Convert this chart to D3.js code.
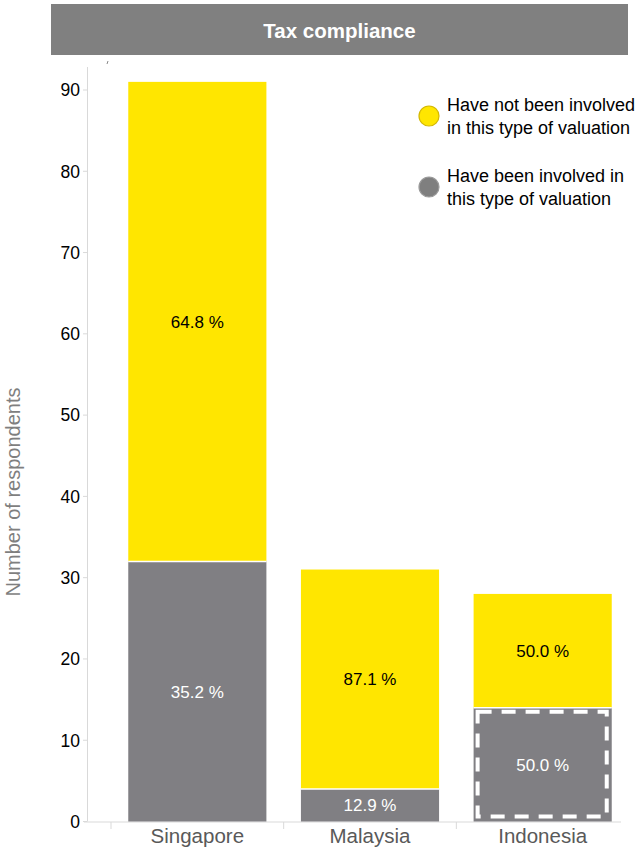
<!DOCTYPE html>
<html><head><meta charset="utf-8">
<script src="https://cdn.jsdelivr.net/npm/d3@7"></script>
<style>body{margin:0;background:#fff;}svg{display:block;font-family:"Liberation Sans",Arial,sans-serif;}</style>
</head><body><svg id="c" width="643" height="861"></svg>
<script>
const categories = ["Singapore","Malaysia","Indonesia"];
const involved = [32, 4, 14];
const notInvolved = [59, 27, 14];
const involvedPct = ["35.2 %","12.9 %","50.0 %"];
const notInvolvedPct = ["64.8 %","87.1 %","50.0 %"];
const yTicks = [0,10,20,30,40,50,60,70,80,90];
const legendLabels = [["Have not been involved","in this type of valuation"],["Have been involved in","this type of valuation"]];

const YEL = "#FFE600", GRY = "#807F83";
const svg = d3.select("#c");
const y = d3.scaleLinear().domain([0,90]).range([821.5,90]);
const x = d3.scaleBand().domain(categories).range([111,629]).paddingInner(0.2).paddingOuter(0.1);

// title bar
svg.append("rect").attr("x",51).attr("y",4).attr("width",577).attr("height",51).attr("fill","#808080");
svg.append("text").attr("x",339.5).attr("y",38).attr("text-anchor","middle").attr("fill","#fff")
  .attr("font-weight","bold").attr("font-size",20.5).text("Tax compliance");

// y axis
svg.append("line").attr("x1",87.5).attr("x2",87.5).attr("y1",67).attr("y2",821.5).attr("stroke","#d9d9d9");
svg.append("line").attr("x1",107).attr("x2",108).attr("y1",64).attr("y2",61).attr("stroke","#888");
const yt = svg.append("g");
yTicks.forEach(t=>{
  yt.append("line").attr("x1",83).attr("x2",87).attr("y1",y(t)).attr("y2",y(t)).attr("stroke","#d9d9d9");
  yt.append("text").attr("x",80).attr("y",y(t)).attr("dy","0.36em").attr("text-anchor","end")
    .attr("font-size",17.5).attr("fill","#000").text(t);
});
svg.append("text").attr("transform","translate(20,492) rotate(-90)").attr("text-anchor","middle")
  .attr("font-size",20).attr("fill","#7f7f7f").text("Number of respondents");

// x axis
svg.append("line").attr("x1",84).attr("x2",621).attr("y1",822).attr("y2",822).attr("stroke","#d9d9d9");
const step = x.step();
[0,1,2].forEach(i=>{
  const bx = x(categories[i]) - x.paddingInner()*step/2;
  svg.append("line").attr("x1",bx).attr("x2",bx).attr("y1",822).attr("y2",829).attr("stroke","#d9d9d9");
});
svg.selectAll(".cat").data(categories).enter().append("text")
  .attr("x",d=>x(d)+x.bandwidth()/2).attr("y",843).attr("text-anchor","middle")
  .attr("font-size",20.5).attr("fill","#595959").text(d=>d);

// bars
categories.forEach((c,i)=>{
  const bx = x(c), bw = x.bandwidth();
  const g0 = involved[i], g1 = involved[i]+notInvolved[i];
  svg.append("rect").attr("x",bx).attr("y",y(g0)).attr("width",bw).attr("height",y(0)-y(g0)).attr("fill",GRY);
  svg.append("rect").attr("x",bx).attr("y",y(g1)).attr("width",bw).attr("height",y(g0)-y(g1)).attr("fill",YEL);
  svg.append("line").attr("x1",bx).attr("x2",bx+bw).attr("y1",y(g0)).attr("y2",y(g0)).attr("stroke","#fff").attr("stroke-width",1.5);
  svg.append("text").attr("x",bx+bw/2).attr("y",(y(0)+y(g0))/2).attr("dy","0.36em").attr("text-anchor","middle")
    .attr("font-size",17).attr("fill","#fff").text(involvedPct[i]);
  svg.append("text").attr("x",bx+bw/2).attr("y",(y(g0)+y(g1))/2).attr("dy","0.36em").attr("text-anchor","middle")
    .attr("font-size",17).attr("fill","#000").text(notInvolvedPct[i]);
});

// dashed highlight on Indonesia involved segment
{
  const bx = x("Indonesia"), bw = x.bandwidth();
  svg.append("rect").attr("x",bx+4).attr("y",y(involved[2])+4).attr("width",bw-9).attr("height",y(0)-y(involved[2])-9)
    .attr("fill","none").attr("stroke","#fff").attr("stroke-width",4).attr("stroke-dasharray","14,10");
}

// legend
const lg = svg.append("g").attr("font-size",18);
[[YEL,"#d4b800",116],[ "#7f7f7f","#9a9a9a",187]].forEach((d,i)=>{
  lg.append("circle").attr("cx",429).attr("cy",d[2]).attr("r",10).attr("fill",d[0]).attr("stroke",d[1]).attr("stroke-width",1.2);
  lg.append("text").attr("x",447).attr("y",d[2]-5).attr("fill","#000").text(legendLabels[i][0]);
  lg.append("text").attr("x",447).attr("y",d[2]+18).attr("fill","#000").text(legendLabels[i][1]);
});
</script></body></html>
